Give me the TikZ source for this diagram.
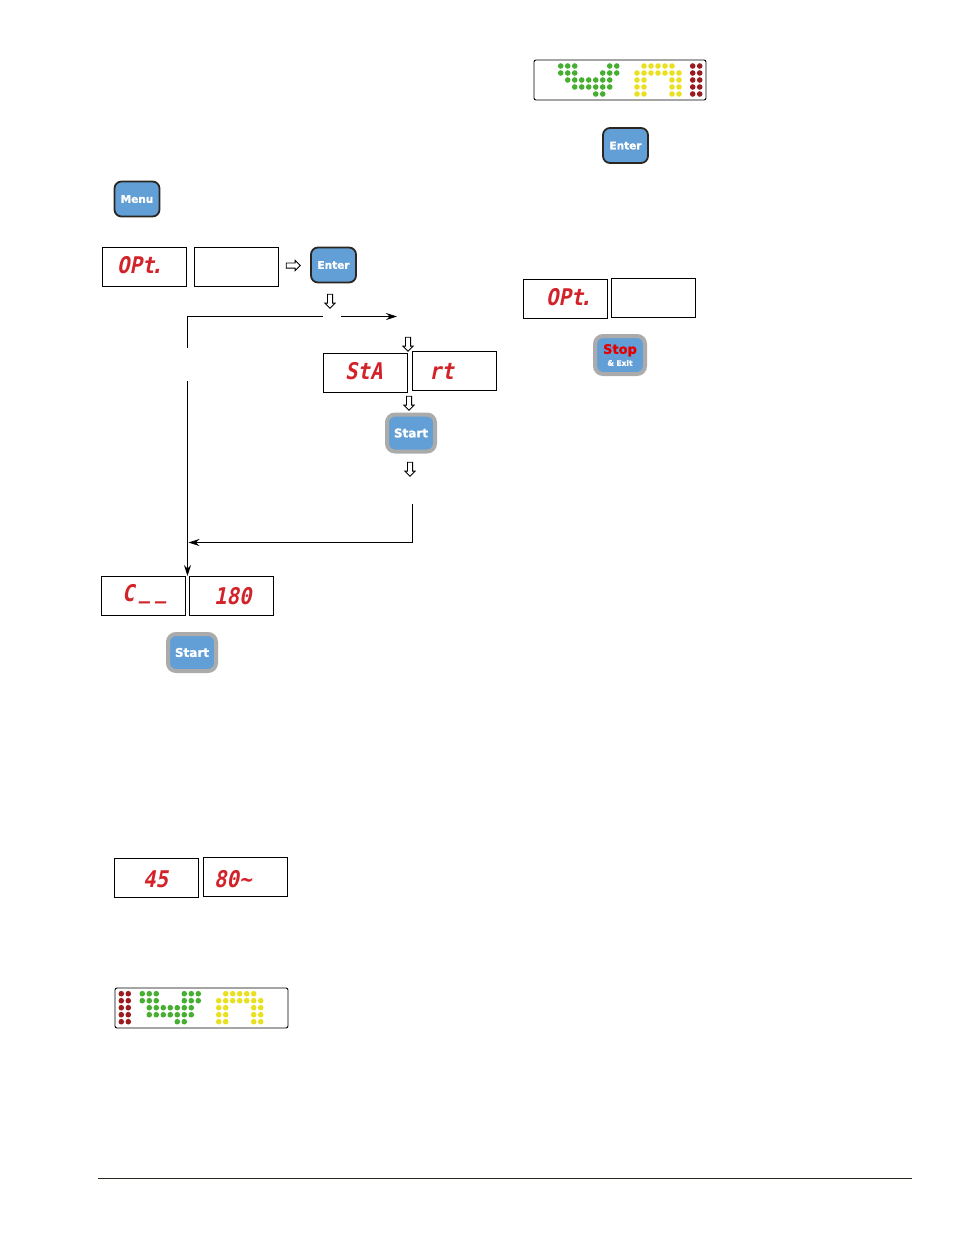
\documentclass[tikz,border=0pt]{standalone}
\usepackage{fontspec}
\setmainfont{DejaVu Sans}
\newfontfamily\ledfont[FakeSlant=0.2,FakeStretch=0.9]{DejaVu Sans Mono Bold}
\newfontfamily\keyfont[FakeBold=1.2]{DejaVu Sans Bold}
\usetikzlibrary{arrows.meta}
\usetikzlibrary{shapes.arrows}
\definecolor{keyblue}{HTML}{629FD6}
\definecolor{keyedge}{HTML}{2B2620}
\definecolor{keygray}{HTML}{ABABAB}
\definecolor{ledred}{HTML}{D2232A}
\definecolor{ledgreen}{HTML}{46AF32}
\definecolor{ledyellow}{HTML}{E9E01F}
\definecolor{ledmaroon}{HTML}{9B1C20}
\tikzset{
  display/.style={draw,line width=0.9pt,minimum width=84pt,minimum height=39pt,inner sep=0pt},
  ledtext/.style={anchor=west,inner sep=0pt,text=ledred,font=\ledfont\fontsize{23}{23}\selectfont},
  menukey/.style={draw=keyedge,fill=keyblue,line width=1.8pt,rounded corners=7pt,minimum width=45pt,minimum height=35pt,
    inner sep=0pt,text=white,font=\keyfont\fontsize{10.5}{11}\selectfont},
  runkey/.style={draw=keygray,fill=keyblue,line width=4pt,rounded corners=8pt,minimum width=48pt,minimum height=37pt,
    inner sep=0pt,text=white,font=\keyfont\fontsize{12}{13}\selectfont},
  hollow/.style={draw,fill=white,line width=0.8pt,single arrow,single arrow head extend=2.6pt,single arrow head indent=0pt,
    minimum height=14pt,minimum width=10pt,inner sep=2.2pt},
  flow/.style={line width=0.7pt},
  flowto/.style={flow,-{Stealth[length=11pt,width=7pt]}},
  panel/.style={line width=0.9pt,rounded corners=2pt}
}
% one bank of dots: left x, top y, colour, rows as row/{columns}
\newcommand{\ledbank}[4]{
  \foreach \r/\cols in {#4}
    \foreach \c in \cols
      \fill[#3] ({#1+7*\c},{#2+7*\r}) circle (2.8pt);
}
\newcommand{\leddash}{\kern5pt\raisebox{3pt}{\scalebox{0.9}[1]{\_}}}
\begin{document}
\begin{tikzpicture}[x=1pt,y=-1pt]
  \useasboundingbox (0,0) rectangle (954,1235);

  % bar graph, top right
  \draw[panel] (534,60) rectangle (706,100);
  \ledbank{560.7}{66}{ledgreen}{0/{0,1,2,7,8},1/{0,1,2,6,7,8},2/{1,2,3,4,5,6,7},3/{2,3,4,5,6,7},4/{5,6}}
  \ledbank{637}{66}{ledyellow}{0/{1,2,3,4,5},1/{0,1,2,3,4,5,6},2/{0,1,5,6},3/{0,1,5,6},4/{0,1,5,6}}
  \ledbank{692.7}{66}{ledmaroon}{0/{0,1},1/{0,1},2/{0,1},3/{0,1},4/{0,1}}

  \node[menukey] (enterb) at (625.5,145.5) {Enter};
  \node[menukey] (menu) at (137,199) {Menu};

  % first row
  \node[display] (opt) at (144.5,267) {};
  \node[ledtext] (opttext) at (117,265.5) {OPt\kern-4pt.};
  \node[display] (optb) at (236.5,267) {};
  \node[hollow] (toenter) at (292,265.5) {};
  \node[menukey] (enter) at (333.5,265) {Enter};
  \node[hollow,shape border rotate=270] (downa) at (330,300) {};

  % branch lines
  \coordinate (corner) at (187.5,316.5);
  \coordinate (gapa) at (323,316.5);
  \coordinate (gapb) at (341,316.5);
  \coordinate (tipa) at (397,316.5);
  \coordinate (gapc) at (187.5,348);
  \coordinate (gapd) at (187.5,381);
  \coordinate (tipb) at (187.5,576);
  \coordinate (backa) at (412.5,504);
  \coordinate (backb) at (412.5,542.5);
  \coordinate (tipc) at (188.5,542.5);
  \draw[flow] (gapc) -- (corner) -- (gapa);
  \draw[flowto] (gapb) -- (tipa);
  \draw[flowto] (gapd) -- (tipb);
  \draw[flowto] (backa) -- (backb) -- (tipc);

  % start branch
  \node[hollow,shape border rotate=270] (downb) at (408,343) {};
  \node[display] (sta) at (365.5,372.5) {};
  \node[ledtext] (statext) at (345,371) {StA};
  \node[display] (rt) at (454.5,370.5) {};
  \node[ledtext] (rttext) at (429,371) {rt};
  \node[hollow,shape border rotate=270] (downc) at (409,402) {};
  \node[runkey] (start) at (411,433) {Start};
  \node[hollow,shape border rotate=270] (downd) at (410,468) {};

  % right column
  \node[display] (optr) at (565.5,299) {};
  \node[ledtext] (optrtext) at (546,297.5) {OPt\kern-4pt.};
  \node[display] (optrb) at (653.5,298) {};
  \node[runkey,align=center,minimum width=50pt,minimum height=38pt] (stop) at (620,355)
    {{\color{red!90!black}\fontsize{13}{12}\selectfont Stop}\\[-1pt]{\fontsize{7.5}{7}\selectfont \& Exit}};

  % lower left
  \node[display] (cnt) at (143.5,596) {};
  \node[ledtext] (cnttext) at (122,594.5) {C\leddash\leddash};
  \node[display] (time) at (231.5,596) {};
  \node[ledtext] (timetext) at (214,596) {180};
  \node[runkey] (startb) at (192,652.5) {Start};

  \node[display] (num) at (156.5,878) {};
  \node[ledtext] (numtext) at (143,879) {45};
  \node[display] (temp) at (245.5,877) {};
  \node[ledtext] (temptext) at (214,879) {80\char`\~};

  % bar graph, bottom left
  \draw[panel] (115,988) rectangle (288,1028);
  \ledbank{121.3}{993.7}{ledmaroon}{0/{0,1},1/{0,1},2/{0,1},3/{0,1},4/{0,1}}
  \ledbank{142.3}{993.7}{ledgreen}{0/{0,1,2,6,7,8},1/{0,1,2,6,7,8},2/{1,2,3,4,5,6,7},3/{1,2,3,4,5,6,7},4/{5,6}}
  \ledbank{218.7}{993.7}{ledyellow}{0/{1,2,3,4,5},1/{0,1,2,3,4,5,6},2/{0,1,5,6},3/{0,1,5,6},4/{0,1,5,6}}

  % footer rule
  \coordinate (rulea) at (98,1178.5);
  \coordinate (ruleb) at (912,1178.5);
  \draw[line width=1.8pt,keyedge] (rulea) -- (ruleb);
\end{tikzpicture}
\end{document}
